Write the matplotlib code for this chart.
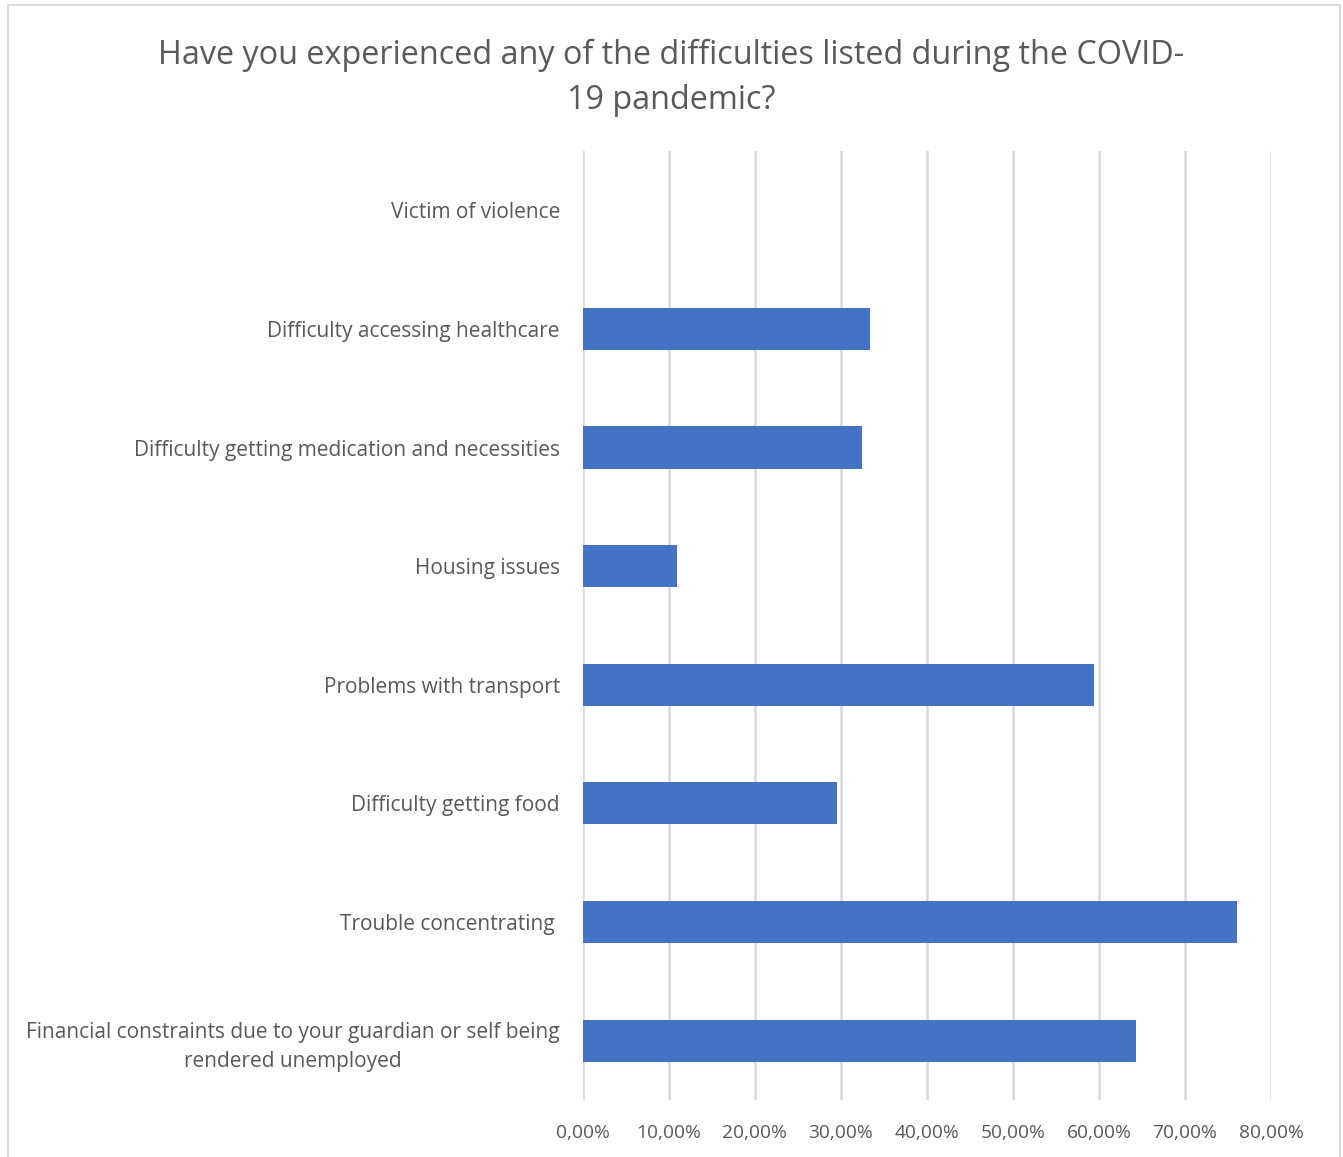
import matplotlib.pyplot as plt
import matplotlib.patches as mpatches
from matplotlib.ticker import FuncFormatter, MultipleLocator

# Survey answers (share of respondents, %)
categories = [
    "Financial constraints due to your guardian or self being\nrendered unemployed",
    "Trouble concentrating ",
    "Difficulty getting food",
    "Problems with transport",
    "Housing issues",
    "Difficulty getting medication and necessities",
    "Difficulty accessing healthcare",
    "Victim of violence",
]
values = [64.3, 76.0, 29.6, 59.4, 10.9, 32.4, 33.33, 0.0]

title = "Have you experienced any of the difficulties listed during the COVID-\n19 pandemic?"

text_color = "#595959"
bar_color = "#4472C4"
grid_color = "#D9D9D9"

plt.rcParams["font.family"] = ["Open Sans", "DejaVu Sans"]

fig = plt.figure(figsize=(13.43, 11.57), dpi=100)
ax = fig.add_axes([0.434, 0.0493, 0.9464 - 0.434, 0.8695 - 0.0493])

ypos = list(range(len(categories)))
ax.barh(ypos, values, height=0.355, color=bar_color, zorder=3)

ax.set_xlim(0, 80)
ax.set_ylim(-0.5, len(categories) - 0.5)
ax.xaxis.set_major_locator(MultipleLocator(10))
ax.xaxis.set_major_formatter(FuncFormatter(lambda v, p: f"{v:.2f}%".replace(".", ",")))
ax.set_yticks(ypos)
ax.set_yticklabels(categories, multialignment="center", linespacing=1.5)

ax.grid(axis="x", color=grid_color, linewidth=1.8, zorder=0)
for s in ax.spines.values():
    s.set_visible(False)
ax.tick_params(axis="both", length=0, colors=text_color)
ax.tick_params(axis="y", pad=16.5, labelsize=15)
ax.tick_params(axis="x", pad=17, labelsize=13.8)

fig.text(0.5, 0.9325, title, ha="center", va="center", fontsize=23.3,
         color=text_color, linespacing=1.5)

# light frame around the whole chart
fig.patches.append(mpatches.Rectangle((8 / 1343, -0.01), 1332 / 1343, 1 - 5 / 1157 + 0.01,
                                      transform=fig.transFigure, fill=False,
                                      edgecolor="#D9D9D9", linewidth=1.5))

fig.savefig("out.png", dpi=100, facecolor="white")
